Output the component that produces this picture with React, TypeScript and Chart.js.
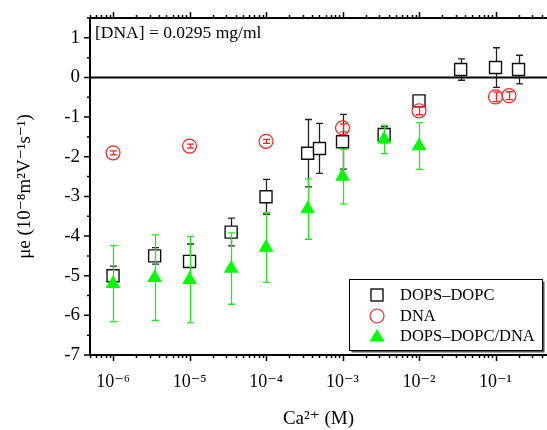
import React, { useEffect, useRef } from 'react';
import { Chart, registerables } from 'chart.js';

Chart.register(...registerables);

const FONT = "'Liberation Serif', 'DejaVu Serif', 'Times New Roman', serif";

// DOPS–DOPC (open squares)
const dopsX = [1e-6, 3.5e-6, 1e-5, 3.5e-5, 1e-4, 3.5e-4, 5e-4, 1e-3, 3.5e-3, 1e-2, 3.5e-2, 1e-1, 2e-1];
const dopsY = [-5.0, -4.5, -4.64, -3.9, -3.01, -1.91, -1.79, -1.62, -1.44, -0.59, 0.2, 0.25, 0.2];
const dopsErr = [0.24, 0.21, 0.44, 0.35, 0.44, 0.85, 0.63, 0.69, 0.2, 0.12, 0.27, 0.5, 0.36];

// DNA (open circles)
const dnaX = [1e-6, 1e-5, 1e-4, 1e-3, 1e-2, 1e-1, 1.5e-1];
const dnaY = [-1.9, -1.73, -1.61, -1.27, -0.84, -0.49, -0.46];
const dnaErr = [0.05, 0.05, 0.05, 0.1, 0.1, 0.12, 0.1];

// DOPS–DOPC/DNA (filled triangles)
const mixX = [1e-6, 3.5e-6, 1e-5, 3.5e-5, 1e-4, 3.5e-4, 1e-3, 3.5e-3, 1e-2];
const mixY = [-5.2, -5.05, -5.1, -4.82, -4.29, -3.32, -2.5, -1.56, -1.73];
const mixErr = [0.96, 1.08, 1.09, 0.9, 0.88, 0.76, 0.69, 0.36, 0.59];

const seriesNames = ['DOPS–DOPC', 'DNA', 'DOPS–DOPC/DNA'];
const xMin = 5e-7;
const xMax = 0.471;
const xTickValues = [1e-6, 1e-5, 1e-4, 1e-3, 1e-2, 1e-1];
const xTickLabels = ['10⁻⁶', '10⁻⁵', '10⁻⁴', '10⁻³', '10⁻²', '10⁻¹'];
const yTickValues = [-7, -6, -5, -4, -3, -2, -1, 0, 1];
const yMinorValues = [-6.5, -5.5, -4.5, -3.5, -2.5, -1.5, -0.5, 0.5, 1.5];
const xTitle = 'Ca²⁺ (M)';
const yTitle = 'μe (10⁻⁸m²V⁻¹s⁻¹)';
const annotation = '[DNA] = 0.0295 mg/ml';

const BLACK = '#111111';
const RED = '#ff2020';
const GREEN = '#00ff00';
const GREEN_ERR = '#22e622';

const toPts = (xs: number[], ys: number[]) => xs.map((x, i) => ({ x, y: ys[i] }));

const decor = {
  id: 'decor',
  beforeDatasetsDraw(chart: any) {
    const { ctx, chartArea, scales } = chart;
    const y0 = scales.y.getPixelForValue(0);
    ctx.save();
    ctx.strokeStyle = '#000';
    ctx.lineWidth = 2;
    ctx.beginPath();
    ctx.moveTo(chartArea.left, y0);
    ctx.lineTo(chartArea.right, y0);
    ctx.stroke();
    ctx.restore();
  },
  beforeDatasetDraw(chart: any, args: any) {
    const { ctx, scales, chartArea } = chart;
    const ds = chart.data.datasets[args.index];
    const errs: number[] = ds.errors || [];
    ctx.save();
    ctx.beginPath();
    ctx.rect(chartArea.left, chartArea.top, chartArea.right - chartArea.left, chartArea.bottom - chartArea.top);
    ctx.clip();
    ctx.strokeStyle = ds.errorColor;
    ctx.lineWidth = 1.3;
    ds.data.forEach((p: any, i: number) => {
      const e = errs[i];
      if (!e) return;
      const px = Math.round(scales.x.getPixelForValue(p.x)) + 0.5;
      const yt = scales.y.getPixelForValue(p.y + e);
      const yb = scales.y.getPixelForValue(p.y - e);
      ctx.beginPath();
      ctx.moveTo(px, yt);
      ctx.lineTo(px, yb);
      ctx.moveTo(px - 3.5, yt);
      ctx.lineTo(px + 3.5, yt);
      ctx.moveTo(px - 3.5, yb);
      ctx.lineTo(px + 3.5, yb);
      ctx.stroke();
    });
    ctx.restore();
  },
  afterDraw(chart: any) {
    const { ctx, chartArea, scales } = chart;
    const { left, right, top, bottom } = chartArea;
    ctx.save();
    ctx.strokeStyle = '#000';
    // axis lines
    ctx.lineWidth = 2;
    ctx.beginPath();
    ctx.moveTo(left, top);
    ctx.lineTo(left, bottom);
    ctx.moveTo(left - 1, bottom);
    ctx.lineTo(right, bottom);
    ctx.moveTo(left - 1, top);
    ctx.lineTo(right, top);
    ctx.stroke();
    // y ticks
    ctx.lineWidth = 1.5;
    ctx.beginPath();
    yTickValues.forEach((v) => {
      const py = scales.y.getPixelForValue(v);
      ctx.moveTo(left, py);
      ctx.lineTo(left - 6, py);
    });
    yMinorValues.forEach((v) => {
      const py = scales.y.getPixelForValue(v);
      if (py < top - 1) return;
      ctx.moveTo(left, py);
      ctx.lineTo(left - 3, py);
    });
    // x ticks bottom (down) and top (up)
    const xmin = scales.x.min;
    const xmax = scales.x.max;
    for (let e = -7; e <= 0; e++) {
      for (let m = 1; m <= 9; m++) {
        const v = m * Math.pow(10, e);
        if (v < xmin * 0.999 || v > xmax * 1.001) continue;
        const px = Math.round(scales.x.getPixelForValue(v)) + 0.5;
        const len = m === 1 ? 6 : 3;
        ctx.moveTo(px, bottom);
        ctx.lineTo(px, bottom + len);
        ctx.moveTo(px, top);
        ctx.lineTo(px, top - len);
      }
    }
    ctx.stroke();

    // annotation
    ctx.fillStyle = '#000';
    ctx.font = `17.5px ${FONT}`;
    ctx.textAlign = 'left';
    ctx.textBaseline = 'alphabetic';
    ctx.fillText(annotation, left + 5, top + 20);

    // legend
    const bx = 349.5, by = 279.5, bw = 193, bh = 71;
    ctx.fillStyle = '#555';
    ctx.fillRect(bx + 2, by + 2, bw, bh);
    ctx.fillStyle = '#fff';
    ctx.fillRect(bx, by, bw, bh);
    ctx.strokeStyle = '#000';
    ctx.lineWidth = 1;
    ctx.strokeRect(bx, by, bw, bh);
    const mx = 377, rows = [295, 316, 336];
    // square
    ctx.lineWidth = 1.4;
    ctx.strokeStyle = BLACK;
    ctx.strokeRect(mx - 6, rows[0] - 6, 12, 12);
    // circle
    ctx.strokeStyle = RED;
    ctx.lineWidth = 1.2;
    ctx.beginPath();
    ctx.arc(mx, rows[1], 7, 0, Math.PI * 2);
    ctx.stroke();
    // triangle
    ctx.fillStyle = GREEN;
    ctx.beginPath();
    ctx.moveTo(mx, rows[2] - 7);
    ctx.lineTo(mx + 7.5, rows[2] + 5.5);
    ctx.lineTo(mx - 7.5, rows[2] + 5.5);
    ctx.closePath();
    ctx.fill();
    ctx.fillStyle = '#000';
    ctx.font = `16.5px ${FONT}`;
    ctx.textBaseline = 'middle';
    seriesNames.forEach((n, i) => ctx.fillText(n, 400, rows[i] + 1));
    ctx.restore();
  },
};

export default function App() {
  const ref = useRef<HTMLCanvasElement | null>(null);
  useEffect(() => {
    document.body.style.margin = '0';
    document.body.style.overflow = 'hidden';
    if (!ref.current) return;
    const chart = new Chart(ref.current, {
      type: 'scatter',
      data: {
        datasets: [
          {
            label: seriesNames[0],
            data: toPts(dopsX, dopsY),
            errors: dopsErr,
            errorColor: '#222',
            pointStyle: 'rect',
            pointRadius: 8.5,
            pointBorderWidth: 1.4,
            pointBorderColor: BLACK,
            pointBackgroundColor: '#ffffff',
            showLine: false,
            order: 2,
          } as any,
          {
            label: seriesNames[1],
            data: toPts(dnaX, dnaY),
            errors: dnaErr,
            errorColor: RED,
            pointStyle: 'circle',
            pointRadius: 7,
            pointBorderWidth: 1.2,
            pointBorderColor: RED,
            pointBackgroundColor: 'rgba(0,0,0,0)',
            showLine: false,
            order: 1,
          } as any,
          {
            label: seriesNames[2],
            data: toPts(mixX, mixY),
            errors: mixErr,
            errorColor: GREEN_ERR,
            pointStyle: 'triangle',
            pointRadius: 8.5,
            pointBorderWidth: 0,
            pointBorderColor: GREEN,
            pointBackgroundColor: GREEN,
            showLine: false,
            order: 0,
          } as any,
        ],
      },
      options: {
        responsive: false,
        animation: false,
        devicePixelRatio: 1,
        layout: { autoPadding: false, padding: { left: 0, top: 18, right: 0, bottom: 0 } },
        plugins: { legend: { display: false }, tooltip: { enabled: false } },
        scales: {
          x: {
            type: 'logarithmic',
            position: 'bottom',
            min: xMin,
            max: xMax,
            grid: { display: false, drawTicks: false },
            border: { display: false },
            afterBuildTicks: (s: any) => {
              s.ticks = xTickValues.map((v) => ({ value: v, major: true }));
            },
            afterFit: (s: any) => {
              s.height = 75;
              s.paddingLeft = 0;
              s.paddingRight = 0;
            },
            ticks: {
              autoSkip: false,
              maxRotation: 0,
              color: '#000',
              padding: 16,
              font: { family: FONT, size: 18 },
              callback: (v: any) => {
                const i = xTickValues.findIndex((t) => Math.abs(t - v) / t < 1e-6);
                return i >= 0 ? xTickLabels[i] : '';
              },
            },
            title: {
              display: true,
              text: xTitle,
              color: '#000',
              font: { family: FONT, size: 19 },
              padding: { top: 0, bottom: 0 },
            },
          },
          y: {
            type: 'linear',
            position: 'left',
            min: -7,
            max: 1.5,
            grid: { display: false, drawTicks: false },
            border: { display: false },
            afterBuildTicks: (s: any) => {
              s.ticks = yTickValues.map((v) => ({ value: v }));
            },
            afterFit: (s: any) => {
              s.width = 90;
              s.paddingTop = 0;
              s.paddingBottom = 0;
            },
            ticks: {
              color: '#000',
              padding: 10,
              font: { family: FONT, size: 19 },
              callback: (v: any) => String(v),
            },
            title: {
              display: true,
              text: yTitle,
              color: '#000',
              font: { family: FONT, size: 19 },
              padding: { top: 14, bottom: 0 },
            },
          },
        },
      },
      plugins: [decor],
    } as any);
    return () => chart.destroy();
  }, []);
  return (
    <div style={{ width: 547, height: 430 }}>
      <canvas ref={ref} width={547} height={430} style={{ display: 'block' }} />
    </div>
  );
}
